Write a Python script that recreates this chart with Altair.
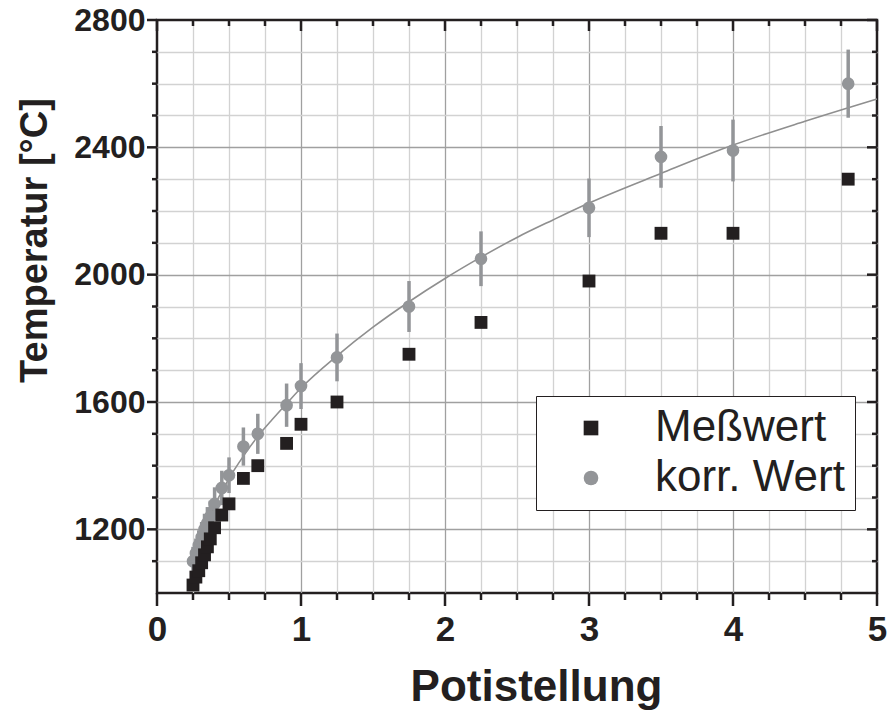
import altair as alt
import pandas as pd

# ---- data ----
pot = [0.25, 0.27, 0.29, 0.31, 0.33, 0.35, 0.37, 0.40, 0.45, 0.50,
       0.6, 0.7, 0.9, 1.0, 1.25, 1.75, 2.25, 3.0, 3.5, 4.0, 4.8]
messwert = [1025, 1050, 1070, 1095, 1120, 1145, 1170, 1205, 1245, 1280,
            1360, 1400, 1470, 1530, 1600, 1750, 1850, 1980, 2130, 2130, 2300]
korr_wert = [1100, 1125, 1150, 1175, 1200, 1220, 1240, 1280, 1330, 1370,
             1460, 1500, 1590, 1650, 1740, 1900, 2050, 2210, 2370, 2390, 2600]
korr_err = [45, 46, 47, 48, 49, 50, 50, 52, 54, 56,
            60, 63, 68, 72, 75, 80, 86, 92, 97, 97, 107]

fit_x = [0.24, 0.3, 0.4, 0.5, 0.6, 0.7, 0.8, 0.9, 1.0, 1.25, 1.5, 1.75,
         2.0, 2.25, 2.5, 2.75, 3.0, 3.5, 4.0, 4.5, 5.0]
fit_y = [1105, 1175, 1275, 1360, 1430, 1492, 1545, 1595, 1644, 1745, 1835, 1915,
         1988, 2055, 2117, 2172, 2225, 2318, 2407, 2482, 2552]

x_major = [0, 1, 2, 3, 4, 5]
x_minor = [0.25, 0.5, 0.75, 1.25, 1.5, 1.75, 2.25, 2.5, 2.75,
           3.25, 3.5, 3.75, 4.25, 4.5, 4.75]
y_major = [1200, 1600, 2000, 2400, 2800]
y_minor = [1100, 1300, 1400, 1500, 1700, 1800, 1900,
           2100, 2200, 2300, 2500, 2600, 2700]

series_names = ["Meßwert", "korr. Wert"]

# ---- tables ----
mess_df = pd.DataFrame({"x": pot, "y": messwert, "Serie": series_names[0]})
korr_df = pd.DataFrame({"x": pot, "y": korr_wert, "Serie": series_names[1]})
err_df = pd.DataFrame({"x": pot,
                       "lo": [v - e for v, e in zip(korr_wert, korr_err)],
                       "hi": [v + e for v, e in zip(korr_wert, korr_err)]})
fit_df = pd.DataFrame({"x": fit_x, "y": fit_y})
xmaj_df = pd.DataFrame({"v": x_major})
xmin_df = pd.DataFrame({"v": x_minor})
ymaj_df = pd.DataFrame({"v": y_major})
ymin_df = pd.DataFrame({"v": y_minor})

INK = "#231f20"
GRAY = "#939598"
FONT = "Liberation Sans, Arial, Helvetica, sans-serif"
W, H = 720, 573

xscale = alt.Scale(domain=[0, 5], nice=False, zero=False)
yscale = alt.Scale(domain=[1000, 2800], nice=False, zero=False)
color_scale = alt.Scale(domain=series_names, range=[INK, GRAY])
shape_scale = alt.Scale(domain=series_names, range=["square", "circle"])

# light minor grid (no labels)
x_grid_axis = alt.Axis(orient="bottom", values=x_minor, labels=False, ticks=False,
                       domain=False, title=None, grid=True, gridColor="#d2d2d2", gridWidth=1.3)
y_grid_axis = alt.Axis(orient="left", values=y_minor, labels=False, ticks=False,
                       domain=False, title=None, grid=True, gridColor="#d2d2d2", gridWidth=1.3)

# major grid, labels and titles (grid hidden on the frame edges)
x_axis = alt.Axis(
    orient="bottom", values=x_major, format="d", labelFlush=False, labelOverlap=False,
    labelFont=FONT, labelFontWeight="bold", labelFontSize=35, labelColor=INK,
    ticks=False, labelPadding=19,
    title="Potistellung", titleFont=FONT, titleFontWeight="bold", titleFontSize=44,
    titleColor=INK, titleX=379, titleY=107, titleBaseline="alphabetic",
    grid=True, gridColor="#a0a0a0", gridWidth=1.3,
    gridOpacity={"condition": {"test": "datum.value === 0 || datum.value === 5", "value": 0}, "value": 1},
    domain=False,
)
y_axis = alt.Axis(
    orient="left", values=y_major, format="d", labelFlush=False, labelOverlap=False,
    labelFont=FONT, labelFontWeight="bold", labelFontSize=32, labelColor=INK,
    ticks=False, labelPadding=12,
    title="Temperatur [°C]", titleFont=FONT, titleFontWeight="bold", titleFontSize=38,
    titleColor=INK, titleX=-111, titleY=220, titleBaseline="alphabetic", titleAngle=270,
    grid=True, gridColor="#a0a0a0", gridWidth=1.3,
    gridOpacity={"condition": {"test": "datum.value === 2800", "value": 0}, "value": 1},
    domain=False,
)

gridlayer = alt.Chart(fit_df).mark_line(opacity=0).encode(
    x=alt.X("x:Q", scale=xscale, axis=x_grid_axis),
    y=alt.Y("y:Q", scale=yscale, axis=y_grid_axis),
)

fit = alt.Chart(fit_df).mark_line(color="#8f8f8f", strokeWidth=1.6, interpolate="monotone").encode(
    x=alt.X("x:Q", scale=xscale, axis=x_axis),
    y=alt.Y("y:Q", scale=yscale, axis=y_axis),
)

err = alt.Chart(err_df).mark_rule(color=GRAY, strokeWidth=3.5).encode(
    x=alt.X("x:Q", scale=xscale, axis=None),
    y=alt.Y("lo:Q", scale=yscale, axis=None),
    y2="hi:Q",
)

legend = alt.Legend(
    title=None, orient="none", legendX=379, legendY=376,
    padding=10, symbolOffset=23, labelOffset=42, rowPadding=6,
    labelFont=FONT, labelFontSize=44, labelColor=INK, labelLimit=500,
    symbolSize=215, symbolStrokeWidth=0,
    strokeColor=INK, fillColor="white",
)

korr = alt.Chart(korr_df).mark_point(filled=True, opacity=1, size=160).encode(
    x=alt.X("x:Q", scale=xscale, axis=None),
    y=alt.Y("y:Q", scale=yscale, axis=None),
    color=alt.Color("Serie:N", scale=color_scale, legend=legend),
    shape=alt.Shape("Serie:N", scale=shape_scale, legend=legend),
)

mess = alt.Chart(mess_df).mark_point(filled=True, opacity=1, size=165).encode(
    x=alt.X("x:Q", scale=xscale, axis=None),
    y=alt.Y("y:Q", scale=yscale, axis=None),
    color=alt.Color("Serie:N", scale=color_scale, legend=legend),
    shape=alt.Shape("Serie:N", scale=shape_scale, legend=legend),
)

# ---- tick marks (bottom/left outward, top/right inward) ----
def xticks(df, ycenter, length):
    return alt.Chart(df).mark_tick(color=INK, thickness=2.5, size=length, orient="vertical", opacity=1).encode(
        x=alt.X("v:Q", scale=xscale, axis=None), y=alt.value(ycenter))

def yticks(df, xcenter, length):
    return alt.Chart(df).mark_tick(color=INK, thickness=2.5, size=length, orient="horizontal", opacity=1).encode(
        y=alt.Y("v:Q", scale=yscale, axis=None), x=alt.value(xcenter))

tick_layers = [
    xticks(xmin_df, H + 3.5, 7), xticks(xmaj_df, H + 6.5, 13),
    xticks(xmin_df, 3, 6), xticks(xmaj_df, 5.5, 11),
    yticks(ymin_df, -2.5, 5), yticks(ymaj_df, -5, 10),
    yticks(ymin_df, W - 2.5, 5), yticks(ymaj_df, W - 5, 10),
]

chart = alt.layer(gridlayer, fit, err, korr, mess, *tick_layers).resolve_axis(
    x="independent", y="independent"
).properties(
    width=W, height=H,
    autosize=alt.AutoSizeParams(type="none"),
    padding={"left": 157, "top": 20, "right": 13, "bottom": 117},
    background="white",
).configure_view(stroke=INK, strokeWidth=2.5)

chart.save("out.html", embed_options={"renderer": "svg", "actions": False})
